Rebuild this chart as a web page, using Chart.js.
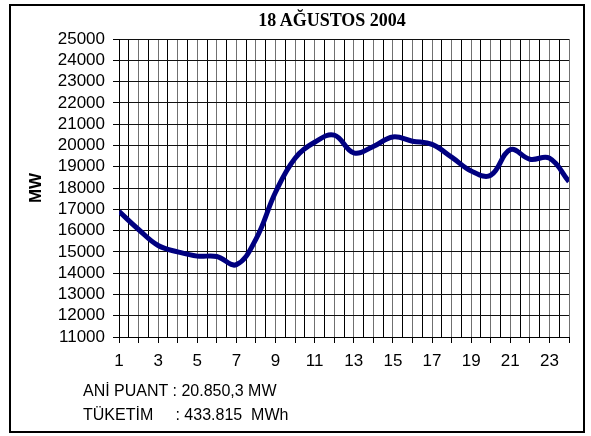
<!DOCTYPE html>
<html>
<head>
<meta charset="utf-8">
<script src="https://cdn.jsdelivr.net/npm/chart.js@4/dist/chart.umd.min.js"></script>
<style>
  html, body { margin: 0; padding: 0; background: #fff; }
  #wrap { position: relative; width: 591px; height: 436px; overflow: hidden; }
  #chart { position: absolute; left: 0; top: 0; }
  #frame {
    position: absolute; left: 9px; top: 4px; width: 572px; height: 425px;
    border: 2px solid #000; pointer-events: none;
  }
  #title {
    position: absolute; left: 332px; top: 11px; transform: translateX(-50%);
    font: bold 18px/18px "Liberation Serif", "Times New Roman", serif;
    white-space: pre; color: #000;
  }
  .note {
    position: absolute; left: 83px;
    font: 16px/16px "Liberation Sans", Arial, sans-serif;
    white-space: pre; color: #000;
  }
</style>
</head>
<body>
<div id="wrap">
  <canvas id="chart" width="591" height="436"></canvas>
  <div id="frame"></div>
  <div id="title">18 AĞUSTOS 2004</div>
  <div class="note" style="top:383px">ANİ PUANT : 20.850,3 MW</div>
  <div class="note" style="top:407px">TÜKETİM     : 433.815  MWh</div>
</div>
<script>
  // Hourly load, 18 August 2004 (MW).
  var hours = [1, 2, 3, 4, 5, 6, 7, 8, 9, 10, 11, 12,
               13, 14, 15, 16, 17, 18, 19, 20, 21, 22, 23, 24];
  var loadMW = [16900, 16050, 15300, 15000, 14800, 14780, 14400, 15600,
                17800, 19400, 20150, 20480, 19650, 19950, 20400, 20200,
                20050, 19450, 18800, 18600, 19800, 19350, 19400, 18300];
  var xLabels = ["1", "3", "5", "7", "9", "11", "13", "15", "17", "19", "21", "23"];
  var yMin = 11000, yMax = 25000, yStep = 1000;

  var points = hours.map(function (h, i) { return { x: h, y: loadMW[i] }; });
  var tickFont = { family: "'Liberation Sans', Arial, sans-serif", size: 17 };

  new Chart(document.getElementById("chart"), {
    type: "line",
    data: {
      datasets: [{
        data: points,
        borderColor: "#000080",
        borderWidth: 5,
        pointRadius: 0,
        tension: 0.4,
        fill: false
      }]
    },
    options: {
      responsive: false,
      animation: false,
      layout: { padding: { left: 0, top: 39, right: 22, bottom: 59 } },
      plugins: { legend: { display: false }, tooltip: { enabled: false } },
      scales: {
        x: {
          type: "linear",
          min: hours[0],
          max: hours[hours.length - 1],
          afterFit: function (s) { s.height = 40; },
          border: { color: "#000", width: 1 },
          grid: {
            // hour lines grey, half-hour lines black; tick marks only on hours
            color: function (c) {
              return Number.isInteger(c.tick.value) ? "#707070" : "#000";
            },
            tickColor: function (c) {
              return Number.isInteger(c.tick.value) ? "#000" : "rgba(0,0,0,0)";
            },
            lineWidth: 1,
            tickLength: 6
          },
          ticks: {
            stepSize: 0.5,
            autoSkip: false,
            maxRotation: 0,
            padding: 8,
            color: "#000",
            font: tickFont,
            callback: function (v) {
              var s = String(v);
              return xLabels.indexOf(s) >= 0 ? s : "";
            }
          }
        },
        y: {
          min: yMin,
          max: yMax,
          afterFit: function (s) { s.width = 119; },
          border: { color: "#000", width: 1 },
          grid: { color: "#101010", lineWidth: 1, tickLength: 6, tickColor: "#000" },
          ticks: {
            stepSize: yStep,
            autoSkip: false,
            padding: 8,
            color: "#000",
            font: tickFont,
            callback: function (v) { return String(v); }
          },
          title: {
            display: true,
            text: "MW",
            color: "#000",
            padding: { top: 26, bottom: 0 },
            font: { family: "'Liberation Sans', Arial, sans-serif", size: 17, weight: "bold" }
          }
        }
      }
    }
  });
</script>
</body>
</html>
